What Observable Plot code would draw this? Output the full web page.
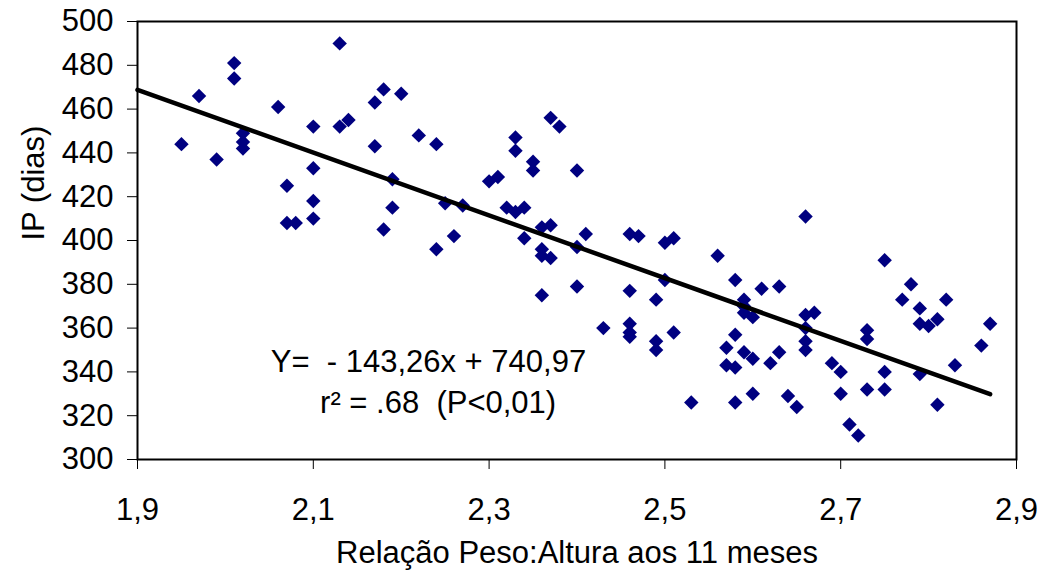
<!DOCTYPE html>
<html>
<head>
<meta charset="utf-8">
<script src="https://cdn.jsdelivr.net/npm/d3@7"></script>
<script src="https://cdn.jsdelivr.net/npm/@observablehq/plot@0.6"></script>
<style>
  html, body { margin: 0; padding: 0; background: #ffffff; }
  svg text { white-space: pre; }
</style>
</head>
<body>
<div id="chart"></div>
<script>
// Relação peso:altura aos 11 meses (x) e intervalo de partos, IP em dias (y)
const pesoAltura = [
  1.95, 1.97, 1.99, 2.01, 2.01, 2.02, 2.02, 2.02, 2.06, 2.07,
  2.07, 2.08, 2.10, 2.10, 2.10, 2.10, 2.13, 2.13, 2.14, 2.17,
  2.18, 2.20, 2.17, 2.19, 2.19, 2.18, 2.22, 2.24, 2.24, 2.25,
  2.26, 2.27, 2.30, 2.31, 2.32, 2.33, 2.34, 2.33, 2.33, 2.35,
  2.35, 2.37, 2.38, 2.40, 2.34, 2.36, 2.37, 2.36, 2.36, 2.37,
  2.40, 2.41, 2.36, 2.40, 2.43, 2.46, 2.47, 2.46, 2.46, 2.46,
  2.46, 2.49, 2.49, 2.49, 2.50, 2.51, 2.50, 2.51, 2.53, 2.56,
  2.58, 2.57, 2.58, 2.57, 2.58, 2.58, 2.59, 2.59, 2.59, 2.60,
  2.59, 2.60, 2.60, 2.61, 2.63, 2.62, 2.63, 2.64, 2.65, 2.66,
  2.66, 2.67, 2.66, 2.66, 2.66, 2.69, 2.70, 2.70, 2.71, 2.72,
  2.73, 2.73, 2.73, 2.75, 2.75, 2.75, 2.77, 2.78, 2.79, 2.79,
  2.80, 2.81, 2.82, 2.79, 2.83, 2.81, 2.86, 2.87
];
const ipDias = [
  444, 466, 437, 481, 474, 449, 445, 442, 461, 425,
  408, 408, 452, 433, 418, 410, 490, 452, 455, 463,
  469, 467, 443, 428, 415, 405, 448, 444, 396, 417,
  402, 416, 427, 429, 415, 413, 415, 447, 441, 436,
  432, 456, 452, 432, 401, 406, 407, 396, 393, 392,
  397, 403, 375, 379, 360, 403, 402, 377, 362, 358,
  356, 373, 354, 350, 399, 401, 382, 358, 326, 393,
  382, 351, 357, 343, 342, 326, 373, 370, 367, 365,
  349, 346, 330, 378, 379, 344, 349, 329, 324, 411,
  366, 367, 360, 354, 350, 344, 340, 330, 316, 311,
  359, 355, 332, 391, 340, 332, 373, 380, 369, 362,
  361, 364, 373, 339, 343, 325, 352, 362
];

// Reta de regressão: Y = -143,26x + 740,97
const slope = -143.26;
const intercept = 740.97;
const fitRange = [1.9, 2.87];

const xTicks = [1.9, 2.1, 2.3, 2.5, 2.7, 2.9];
const yTicks = [300, 320, 340, 360, 380, 400, 420, 440, 460, 480, 500];

const xLabel = "Relação Peso:Altura aos 11 meses";
const yLabel = "IP (dias)";
const equationLines = ["Y=  - 143,26x + 740,97", "r² = .68  (P<0,01)"];
const equationX = [2.231, 2.242];
const equationY = [344.3, 325.6];

const points = pesoAltura.map((x, i) => ({x, y: ipDias[i]}));
const fit = fitRange.map(x => ({x, y: slope * x + intercept}));
const equation = equationLines.map((text, i) => ({text, x: equationX[i], y: equationY[i]}));

const commaDecimal = d => d.toFixed(1).replace(".", ",");
const FONT = 31;

const chart = Plot.plot({
  width: 1044,
  height: 577,
  marginLeft: 137,
  marginRight: 28,
  marginTop: 21,
  marginBottom: 118,
  style: {
    fontFamily: "'Liberation Sans', Arial, sans-serif",
    fontSize: FONT + "px",
    background: "#ffffff",
    color: "#000000",
    overflow: "visible"
  },
  x: {domain: [1.9, 2.9]},
  y: {domain: [300, 500]},
  marks: [
    Plot.axisX({ticks: xTicks, tickSize: 10, tickPadding: 28, tickFormat: commaDecimal, label: null, fontSize: FONT}),
    Plot.axisY({ticks: yTicks, tickSize: 10, tickPadding: 14, label: null, fontSize: FONT}),
    Plot.dot(points, {x: "x", y: "y", symbol: "diamond2", r: 6.5, fill: "#000080", stroke: "none"}),
    Plot.line(fit, {x: "x", y: "y", stroke: "#000000", strokeWidth: 4.5}),
    Plot.frame({stroke: "#000000", strokeWidth: 2}),
    Plot.text(equation, {x: "x", y: "y", text: "text", fontSize: FONT, fill: "#000000", textAnchor: "middle"}),
    Plot.text([xLabel], {frameAnchor: "bottom", dy: 103, fontSize: FONT, fill: "#000000"}),
    Plot.text([yLabel], {frameAnchor: "left", dx: -103, rotate: -90, fontSize: FONT, fill: "#000000"})
  ]
});

document.getElementById("chart").appendChild(chart);
</script>
</body>
</html>
